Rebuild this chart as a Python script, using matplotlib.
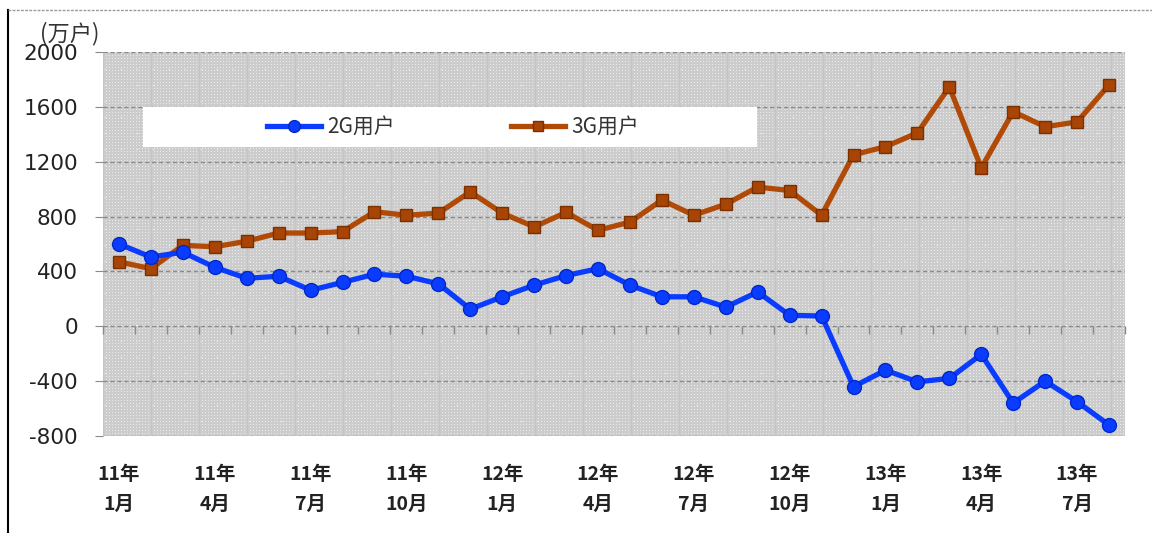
import numpy as np
import matplotlib
matplotlib.use("Agg")
import matplotlib.pyplot as plt
from matplotlib.lines import Line2D
from matplotlib.patches import Rectangle

plt.rcParams['font.family'] = ['Noto Sans CJK SC', 'DejaVu Sans']

# ---- data ----
months = [f"{y}年{m}月" for y in (11, 12, 13) for m in range(1, 13)][:32]
g2_users = [600, 505, 540, 430, 350, 365, 263, 320, 380, 365, 310, 125, 215, 300, 370, 420,
            300, 215, 215, 140, 250, 80, 75, -440, -320, -405, -380, -205, -560, -400, -550, -720]
g3_users = [470, 420, 590, 580, 620, 680, 680, 690, 835, 810, 825, 980, 825, 725, 830, 700,
            760, 920, 810, 890, 1015, 990, 810, 1250, 1310, 1410, 1745, 1155, 1565, 1455, 1490, 1760]
tick_idx = [0, 3, 6, 9, 12, 15, 18, 21, 24, 27, 30]
tick_labels = ['11年\n1月', '11年\n4月', '11年\n7月', '11年\n10月',
               '12年\n1月', '12年\n4月', '12年\n7月', '12年\n10月',
               '13年\n1月', '13年\n4月', '13年\n7月']
y_ticks = [-800, -400, 0, 400, 800, 1200, 1600, 2000]
series_names = ['2G用户', '3G用户']
unit_label = '(万户)'

W, H = 1152, 533
fig = plt.figure(figsize=(W / 100, H / 100), dpi=100)
fig.patch.set_facecolor('white')
L, R, T, B = 103, 1125, 52, 436
ax = fig.add_axes([L / W, 1 - B / H, (R - L) / W, (B - T) / H])

x = np.arange(len(months))
ax.set_xlim(-0.5, len(months) - 0.5)
ax.set_ylim(-800, 2000)

# textured background
pw, ph = R - L, B - T
tex = np.full((ph, pw), 0.80)
tex[::3, ::3] = 0.92
tex[1::16, 2::16] = 0.97
tex[:, ::48] = 0.77
ax.imshow(tex, cmap='gray', vmin=0, vmax=1, extent=(-0.5, len(months) - 0.5, -800, 2000),
          aspect='auto', interpolation='nearest', zorder=0)

for yv in y_ticks:
    ax.axhline(yv, color='#8a8a8a', lw=1.0, ls=(0, (3, 2)), zorder=1)

for s in ax.spines.values():
    s.set_visible(False)

# zero axis with category tick marks
sec = ax.secondary_xaxis(800 / 2800)
sec.set_xticks(np.arange(-0.5, len(months) + 0.5, 1.0))
sec.tick_params(axis='x', length=6, width=1, color='#8a8a8a', labelbottom=False, labeltop=False,
                direction='out')
sec.spines['bottom'].set_visible(False)
sec.spines['top'].set_visible(False)

# legend background
ax.add_patch(Rectangle((0.039, 0.753), 0.601, 0.104, transform=ax.transAxes,
                       facecolor='white', edgecolor='none', zorder=2))

ax.plot(x, g2_users, color='#0a3cff', lw=3.8, marker='o', ms=10,
        mfc='#0a3cff', mec='#0028c8', mew=1, label=series_names[0], zorder=4)
ax.plot(x, g3_users, color='#b04a06', lw=3.8, marker='s', ms=9,
        mfc='#a84405', mec='#7a3000', mew=1, label=series_names[1], zorder=3)

leg = ax.legend(loc='center', bbox_to_anchor=(0.039 + 0.601 / 2 + 0.003, 0.805), ncol=2,
                frameon=False, fontsize=15, handlelength=2.6, handletextpad=0.3,
                columnspacing=5.6, markerscale=0.85)
for t in leg.get_texts():
    t.set_color('#333333')
leg.set_zorder(5)

ax.set_yticks(y_ticks)
ax.set_yticklabels([str(v) for v in y_ticks], family='DejaVu Sans', fontsize=15.5, color='#222222')
ax.tick_params(axis='y', length=6, color='#8a8a8a', pad=12)

ax.set_xticks(tick_idx)
ax.set_xticklabels(tick_labels, fontsize=14, fontweight='bold', color='#222222', linespacing=1.75)
ax.tick_params(axis='x', length=0, pad=21)

fig.text(70 / W, 1 - 34 / H, unit_label, fontsize=16, color='#333333', ha='center', va='center')

# frame of the picture
fig.add_artist(Line2D([8 / W, 8 / W], [0, 1 - 10 / H], color='black', lw=1.5, transform=fig.transFigure))
fig.add_artist(Line2D([8 / W, 1], [1 - 10 / H, 1 - 10 / H], color='#999999', lw=1,
                      ls=(0, (2, 1)), transform=fig.transFigure))

fig.savefig('out.png', dpi=100)
